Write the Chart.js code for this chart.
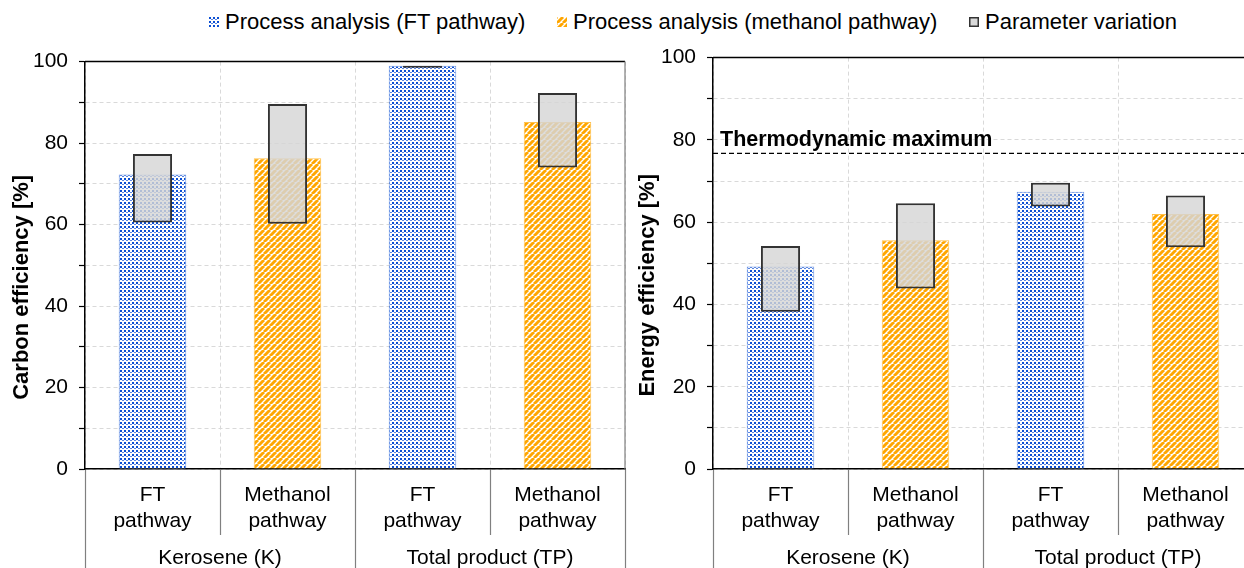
<!DOCTYPE html>
<html>
<head>
<meta charset="utf-8">
<title>Carbon and energy efficiency</title>
<script src="https://cdn.jsdelivr.net/npm/chart.js@4.4.1/dist/chart.umd.min.js"></script>
<style>
  html, body { margin: 0; padding: 0; background: #fff; }
  body { width: 1244px; height: 568px; overflow: hidden; position: relative;
         font-family: "Liberation Sans", Arial, sans-serif; }
  .lg { position: absolute; top: 9px; font-size: 22px; line-height: 26px; color: #000;
        white-space: nowrap; display: flex; align-items: center; }
  .lg canvas { margin-right: 6px; }
  #carbon { position: absolute; left: 0; top: 38px; }
  #energy { position: absolute; left: 630px; top: 34px; }
</style>
</head>
<body>
<div class="lg" style="left:209px"><canvas id="swFT" width="10" height="10"></canvas>Process analysis (FT pathway)</div>
<div class="lg" style="left:557px"><canvas id="swMeOH" width="10" height="10"></canvas>Process analysis (methanol pathway)</div>
<div class="lg" style="left:969px"><canvas id="swVar" width="10" height="10"></canvas>Parameter variation</div>
<canvas id="carbon" width="630" height="530"></canvas>
<canvas id="energy" width="630" height="534"></canvas>
<script>
// ---- data ----
const categories = [['FT', 'pathway'], ['Methanol', 'pathway'], ['FT', 'pathway'], ['Methanol', 'pathway']];
const productGroups = ['Kerosene (K)', 'Total product (TP)'];

const carbonFT = [72.3, null, 99.0, null];
const carbonMeOH = [null, 76.3, null, 85.2];
const carbonVarLow = [60.5, 60.2, 98.5, 74.0];
const carbonVarHigh = [77.3, 89.6, 99.0, 92.3];

const energyFT = [49.2, null, 67.4, null];
const energyMeOH = [null, 55.6, null, 62.0];
const energyVarLow = [38.2, 43.9, 63.8, 53.9];
const energyVarHigh = [54.2, 64.6, 69.6, 66.5];

const thermodynamicMax = 76.7;
const yMin = 0, yMax = 100, yStep = 10, yLabelStep = 20;

const FONT = '"Liberation Sans", Arial, sans-serif';
const BLUE = '#0c4fd2';
const BLUE_MID = '#5b86e2';
const ORANGE = '#ffa600';

// ---- fill patterns ----
function dotPattern(ctx) {
  const t = document.createElement('canvas');
  t.width = 4; t.height = 4;
  const c = t.getContext('2d');
  c.fillStyle = '#fff'; c.fillRect(0, 0, 4, 4);
  c.fillStyle = BLUE; c.fillRect(0, 0, 2, 2);
  c.fillStyle = BLUE_MID; c.fillRect(2, 2, 2, 1);
  return ctx.createPattern(t, 'repeat');
}
function hatchPattern(ctx) {
  const s = 6;
  const t = document.createElement('canvas');
  t.width = s; t.height = s;
  const c = t.getContext('2d');
  c.fillStyle = '#fff'; c.fillRect(0, 0, s, s);
  c.strokeStyle = ORANGE; c.lineWidth = 2.9;
  c.beginPath();
  for (const k of [-s, 0, s]) { c.moveTo(k, s); c.lineTo(k + s, 0); }
  c.stroke();
  return ctx.createPattern(t, 'repeat');
}
const VAR_FILL = 'rgba(214,214,214,0.82)';
const VAR_EDGE = '#333';

// legend swatches
(function () {
  const a = document.getElementById('swFT').getContext('2d');
  a.fillStyle = dotPattern(a); a.fillRect(0, 0, 10, 10);
  const b = document.getElementById('swMeOH').getContext('2d');
  b.fillStyle = hatchPattern(b); b.fillRect(0, 0, 10, 10);
  const v = document.getElementById('swVar').getContext('2d');
  v.fillStyle = '#d9d9d9'; v.fillRect(0, 0, 10, 10);
  v.strokeStyle = VAR_EDGE; v.lineWidth = 1.5; v.strokeRect(0.75, 0.75, 8.5, 8.5);
})();

// ---- plugins ----
// frame on the top and right of the plot area
const framePlugin = {
  id: 'frame',
  afterDatasetsDraw(chart) {
    const { ctx, chartArea: a } = chart;
    ctx.save();
    ctx.strokeStyle = '#000'; ctx.lineWidth = 1.5;
    ctx.beginPath(); ctx.moveTo(a.left, a.top); ctx.lineTo(a.right, a.top); ctx.stroke();
    ctx.strokeStyle = '#7f7f7f'; ctx.lineWidth = 1.2;
    ctx.beginPath(); ctx.moveTo(a.right, a.top); ctx.lineTo(a.right, a.bottom); ctx.stroke();
    ctx.restore();
  }
};
// rotated y-axis title
const yTitlePlugin = {
  id: 'yTitle',
  afterDraw(chart, args, opts) {
    const { ctx, chartArea: a } = chart;
    ctx.save();
    ctx.translate(opts.x, (a.top + a.bottom) / 2 + opts.shift);
    ctx.rotate(-Math.PI / 2);
    ctx.font = 'bold 22px ' + FONT;
    ctx.fillStyle = '#000';
    ctx.textAlign = 'center'; ctx.textBaseline = 'middle';
    ctx.fillText(opts.text, 0, 0);
    ctx.restore();
  }
};
// dashed reference line with label
const refLinePlugin = {
  id: 'refLine',
  afterDatasetsDraw(chart, args, opts) {
    if (opts.value == null) return;
    const { ctx, chartArea: a, scales: { y } } = chart;
    const py = y.getPixelForValue(opts.value);
    ctx.save();
    ctx.strokeStyle = '#000'; ctx.lineWidth = 1.3; ctx.setLineDash([5, 3]);
    ctx.beginPath(); ctx.moveTo(a.left, py); ctx.lineTo(a.right, py); ctx.stroke();
    ctx.setLineDash([]);
    ctx.font = 'bold 21.5px ' + FONT;
    ctx.fillStyle = '#000'; ctx.textAlign = 'left'; ctx.textBaseline = 'alphabetic';
    ctx.fillText(opts.text, a.left + 7, py - 7);
    ctx.restore();
  }
};

function makeChart(id, ft, meoh, low, high, opts) {
  const canvas = document.getElementById(id);
  const ctx = canvas.getContext('2d');
  const variation = low.map((l, i) => [l, high[i]]);
  return new Chart(ctx, {
    type: 'bar',
    data: {
      labels: categories,
      datasets: [
        { label: 'Parameter variation', data: variation, order: 0,
          backgroundColor: VAR_FILL, borderColor: VAR_EDGE, borderWidth: 2,
          borderSkipped: false, barPercentage: 0.29, categoryPercentage: 1, grouped: false },
        { label: 'Process analysis (FT pathway)', data: ft, order: 1,
          backgroundColor: dotPattern(ctx), borderColor: 'rgba(12,79,210,0.6)', borderWidth: 1,
          borderSkipped: 'start', barPercentage: 0.5, categoryPercentage: 1, grouped: false },
        { label: 'Process analysis (methanol pathway)', data: meoh, order: 1,
          backgroundColor: hatchPattern(ctx), borderColor: 'rgba(255,166,0,0.7)', borderWidth: 1,
          borderSkipped: 'start', barPercentage: 0.5, categoryPercentage: 1, grouped: false }
      ]
    },
    options: {
      responsive: false,
      animation: false,
      layout: { padding: { top: 0, right: opts.padRight, bottom: 0, left: 0 } },
      plugins: {
        legend: { display: false },
        tooltip: { enabled: false },
        yTitle: { text: opts.yTitle, x: opts.titleX, shift: 22 },
        refLine: { value: opts.refValue, text: 'Thermodynamic maximum' }
      },
      scales: {
        x: {
          type: 'category', position: 'bottom', weight: 0, offset: true,
          grid: { offset: true, color: '#d9d9d9', lineWidth: 1, drawTicks: true, tickLength: 66,
                  tickColor: '#808080', tickWidth: 1.2, tickBorderDash: [] },
          border: { display: true, color: '#000', width: 1.5, dash: [4, 3] },
          ticks: { font: { size: 21, family: FONT }, color: '#000', padding: -52,
                   maxRotation: 0, autoSkip: false },
          afterFit(s) { s.height = 66; }
        },
        x2: {
          type: 'category', labels: productGroups, position: 'bottom', weight: 1, offset: true,
          grid: { offset: true, drawOnChartArea: false, drawTicks: true, tickLength: 33,
                  color: '#808080', tickColor: '#808080', tickWidth: 1.2, tickBorderDash: [] },
          border: { display: false },
          ticks: { font: { size: 21, family: FONT }, color: '#000', padding: -22,
                   maxRotation: 0, autoSkip: false },
          afterFit(s) { s.height = 33; }
        },
        y: {
          min: yMin, max: yMax,
          grid: { color: '#d9d9d9', lineWidth: 1, drawTicks: true, tickLength: 6,
                  tickColor: '#000', tickWidth: 1.2, tickBorderDash: [] },
          border: { display: true, color: '#000', width: 1.5, dash: [4, 3] },
          ticks: { stepSize: yStep, padding: 11, color: '#000',
                   font: { size: 21, family: FONT },
                   callback: v => (v % yLabelStep === 0 ? v : '') },
          afterFit(s) { s.width = opts.yWidth; }
        }
      }
    },
    plugins: [framePlugin, yTitlePlugin, refLinePlugin]
  });
}

makeChart('carbon', carbonFT, carbonMeOH, carbonVarLow, carbonVarHigh,
  { padRight: 5, yWidth: 85, titleX: 22, yTitle: 'Carbon efficiency [%]', refValue: null });
makeChart('energy', energyFT, energyMeOH, energyVarLow, energyVarHigh,
  { padRight: 7, yWidth: 83, titleX: 18, yTitle: 'Energy efficiency [%]', refValue: thermodynamicMax });
</script>
</body>
</html>
